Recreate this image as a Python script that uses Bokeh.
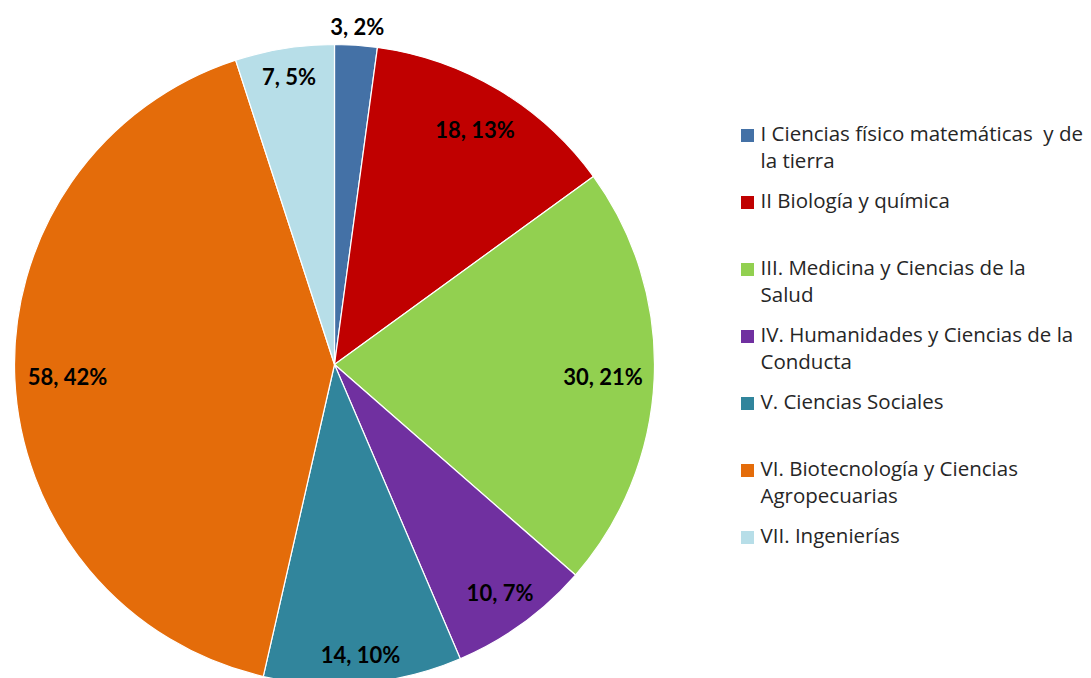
import math
from bokeh.plotting import figure
from bokeh.models import Range1d, ColumnDataSource
from bokeh.core.properties import value
from bokeh.embed import file_html
from bokeh.resources import INLINE

# ---- data ----
categories = [
    "I Ciencias físico matemáticas  y de\nla tierra",
    "II Biología y química",
    "III. Medicina y Ciencias de la\nSalud",
    "IV. Humanidades y Ciencias de la\nConducta",
    "V. Ciencias Sociales",
    "VI. Biotecnología y Ciencias\nAgropecuarias",
    "VII. Ingenierías",
]
counts = [3, 18, 30, 10, 14, 58, 7]
percents = [2, 13, 21, 7, 10, 42, 5]
colors = ["#4471A6", "#C00000", "#92D050", "#7030A0", "#31859C", "#E46C0A", "#B7DEE8"]

# ---- layout (pixels, page coordinates with y upward) ----
W, H = 1091, 678
CX, CY, R = 334, 678 - 364, 320
label_r = [1.06, 0.856, 0.84, 0.88, 0.91, 0.835, 0.91]
LEG_X, LEG_Y0, LEG_STEP, LINE_H = 747, 678 - 135, 67, 27.5

p = figure(width=W, height=H, output_backend="svg", toolbar_location=None,
           x_range=Range1d(0, W), y_range=Range1d(678 - H, 678),
           min_border=0)
p.axis.visible = False
p.grid.visible = False
p.outline_line_color = None
p.background_fill_color = "white"

total = sum(counts)
starts, ends, mids = [], [], []
cum = 0
for c in counts:
    a0 = math.pi / 2 - 2 * math.pi * cum / total
    cum += c
    a1 = math.pi / 2 - 2 * math.pi * cum / total
    starts.append(a0)
    ends.append(a1)
    mids.append((a0 + a1) / 2)

src = ColumnDataSource(dict(start=starts, end=ends, color=colors))
p.wedge(x=CX, y=CY, radius=R, start_angle="start", end_angle="end",
        direction="clock", fill_color="color", line_color="white",
        line_width=1.2, source=src)

lx = [CX + f * R * math.cos(m) for f, m in zip(label_r, mids)]
ly = [CY + f * R * math.sin(m) for f, m in zip(label_r, mids)]
labels = [f"{c}, {pc}%" for c, pc in zip(counts, percents)]
p.text(x=lx, y=ly, text=labels, text_align="center", text_baseline="middle",
       text_font=value("Lato"), text_font_style="bold", text_font_size="22px",
       text_color="black")

# ---- legend ----
sq_x, sq_y, tx, ty, tt = [], [], [], [], []
for i, cat in enumerate(categories):
    y0 = LEG_Y0 - i * LEG_STEP
    sq_x.append(LEG_X)
    sq_y.append(y0)
    for j, line in enumerate(cat.split("\n")):
        tx.append(LEG_X + 13)
        ty.append(y0 + 3 - j * LINE_H)
        tt.append(line.replace("  ", "\u00a0 "))
p.rect(x=sq_x, y=sq_y, width=13, height=13, fill_color=colors, line_color=None)
p.text(x=tx, y=ty, text=tt, text_align="left", text_baseline="middle",
       text_font=value("Open Sans"), text_font_size="20.5px", text_color="#262626")

open("out.html", "w").write(file_html(p, INLINE))
